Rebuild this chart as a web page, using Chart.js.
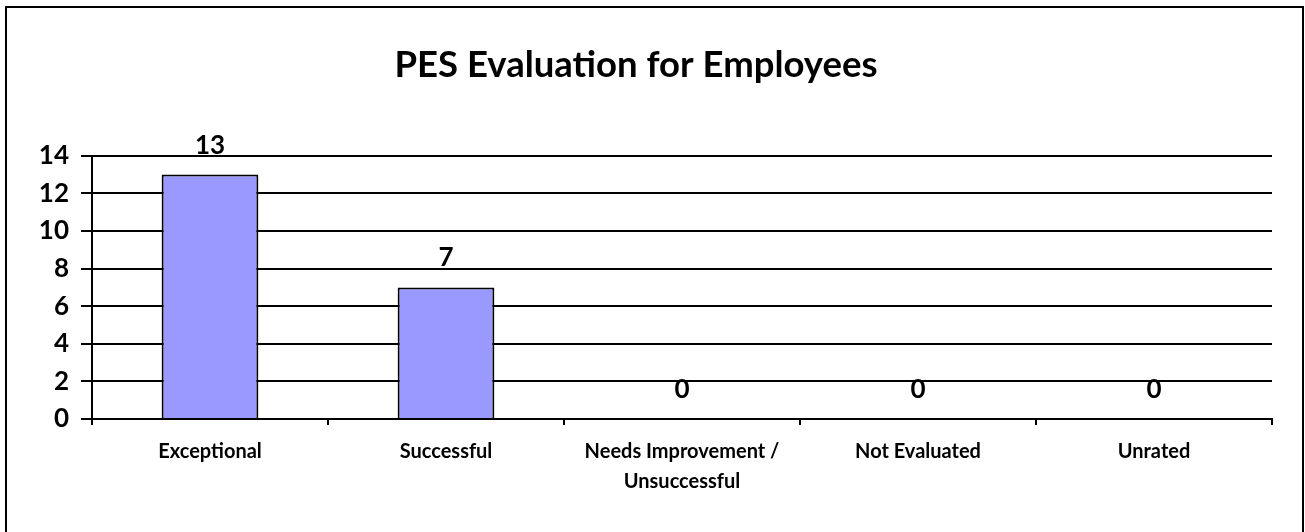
<!DOCTYPE html>
<html>
<head>
<meta charset="utf-8">
<script src="https://cdn.jsdelivr.net/npm/chart.js@4"></script>
<style>
  html, body { margin: 0; padding: 0; background: #fff; }
  #wrap { width: 1305px; height: 532px; }
</style>
</head>
<body>
<div id="wrap"><canvas id="pesChart"></canvas></div>
<script>
const categories = ["Exceptional", "Successful", ["Needs Improvement /", "Unsuccessful"], "Not Evaluated", "Unrated"];
const employeeCounts = [13, 7, 0, 0, 0];
const yTicks = [0, 2, 4, 6, 8, 10, 12, 14];
const titleText = "PES Evaluation for Employees";

const barFill = "#9999FF";
const fontFamily = "Lato, 'Open Sans', sans-serif";

// draws the outer frame and the bold value labels above bars
const framePlugin = {
    id: "frame",
    beforeDraw(chart) {
        const ctx = chart.ctx;
        ctx.save();
        ctx.strokeStyle = "#000";
        ctx.lineWidth = 2;
        ctx.strokeRect(6, 7, 1297, 540);
        ctx.restore();
    }
};

const valueLabels = {
    id: "valueLabels",
    afterDatasetsDraw(chart) {
        const ctx = chart.ctx;
        const meta = chart.getDatasetMeta(0);
        ctx.save();
        ctx.font = "bold 26px " + fontFamily;
        ctx.fillStyle = "#000";
        ctx.textAlign = "center";
        ctx.textBaseline = "alphabetic";
        meta.data.forEach((bar, i) => {
            ctx.fillText(employeeCounts[i], bar.x, bar.y - 21);
        });
        ctx.restore();
    }
};

new Chart(document.getElementById("pesChart"), {
    type: "bar",
    data: {
        labels: categories,
        datasets: [{
            data: employeeCounts,
            backgroundColor: barFill,
            borderColor: "#000",
            borderWidth: 2,
            categoryPercentage: 1,
            barPercentage: 0.41,
        }],
    },
    options: {
        responsive: true,
        maintainAspectRatio: false,
        animation: false,
        layout: { padding: { left: 0, right: 33, top: 0, bottom: 0 } },
        plugins: {
            legend: { display: false },
            tooltip: { enabled: false },
            title: {
                display: true,
                text: titleText,
                color: "#000",
                font: { family: fontFamily, size: 36.5, weight: "bold" },
                padding: { top: 43, bottom: 69 },
            },
        },
        scales: {
            x: {
                grid: {
                    offset: true,
                    drawOnChartArea: false,
                    drawTicks: true,
                    tickLength: 6,
                    color: "#000",
                    lineWidth: 2,
                },
                border: { color: "#000", width: 2 },
                ticks: {
                    color: "#000",
                    font: { family: fontFamily, size: 20, weight: "bold", lineHeight: 1.5 },
                    padding: 12,
                    maxRotation: 0,
                },
                afterFit(scale) { scale.height = 113; },
            },
            y: {
                min: 0,
                max: 14,
                afterBuildTicks(scale) { scale.ticks = yTicks.map(v => ({ value: v })); },
                grid: {
                    color: "#000",
                    lineWidth: 2,
                    tickLength: 11,
                },
                border: { color: "#000", width: 2 },
                ticks: {
                    color: "#000",
                    font: { family: fontFamily, size: 26, weight: "bold" },
                    padding: 12,
                },
                afterFit(scale) { scale.width = 92; },
            },
        },
    },
    plugins: [framePlugin, valueLabels],
});
</script>
</body>
</html>
